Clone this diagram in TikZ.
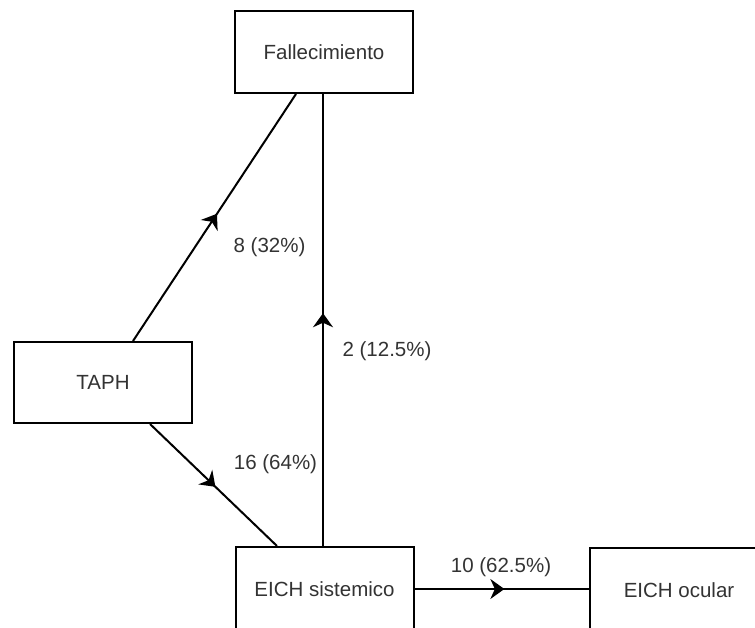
\documentclass[tikz,border=0pt]{standalone}
\usepackage{fontspec}
\setmainfont{Liberation Sans}
\usetikzlibrary{arrows.meta,decorations.markings}
\begin{document}
\begin{tikzpicture}[x=1pt,y=-1pt,
  box/.style={draw=black,line width=2pt,fill=white,rectangle,minimum width=178pt,inner sep=0pt,
    text=black!80,font=\fontsize{20.5}{24}\selectfont},
  lbl/.style={text=black!80,font=\fontsize{20.5}{24}\selectfont,inner sep=0pt},
  flow/.style={line width=2pt,postaction={decorate},
    decoration={markings,mark=at position 0.515 with {\arrow{Stealth[length=14pt,width=20pt,inset=4.5pt]}}}}
]
\useasboundingbox (0,0) rectangle (755,628);
\node[box,minimum height=82pt] (fall) at (324,52) {Fallecimiento};
\node[box,minimum height=81pt] (taph) at (103,382.5) {TAPH};
\node[box,minimum height=84pt] (sist) at (324.5,589) {EICH sistemico};
\node[box,minimum height=84pt] (ocul) at (679,590) {EICH ocular};

\draw[flow] ([xshift=30pt]taph.north) -- ([xshift=-28pt]fall.south);
\draw[flow] ([xshift=47pt]taph.south) -- ([xshift=-47.5pt]sist.north);
\draw[flow] ([xshift=-1.5pt]sist.north) -- ([xshift=-1.5pt]sist.north |- fall.south);
\draw[flow] (sist.east) -- (sist.east -| ocul.west);

\node[lbl] (l1) at (269.5,247) {8 (32\%)};
\node[lbl] (l2) at (387,351) {2 (12.5\%)};
\node[lbl] (l3) at (275.5,464) {16 (64\%)};
\node[lbl] (l4) at (501,567) {10 (62.5\%)};
\end{tikzpicture}
\end{document}
